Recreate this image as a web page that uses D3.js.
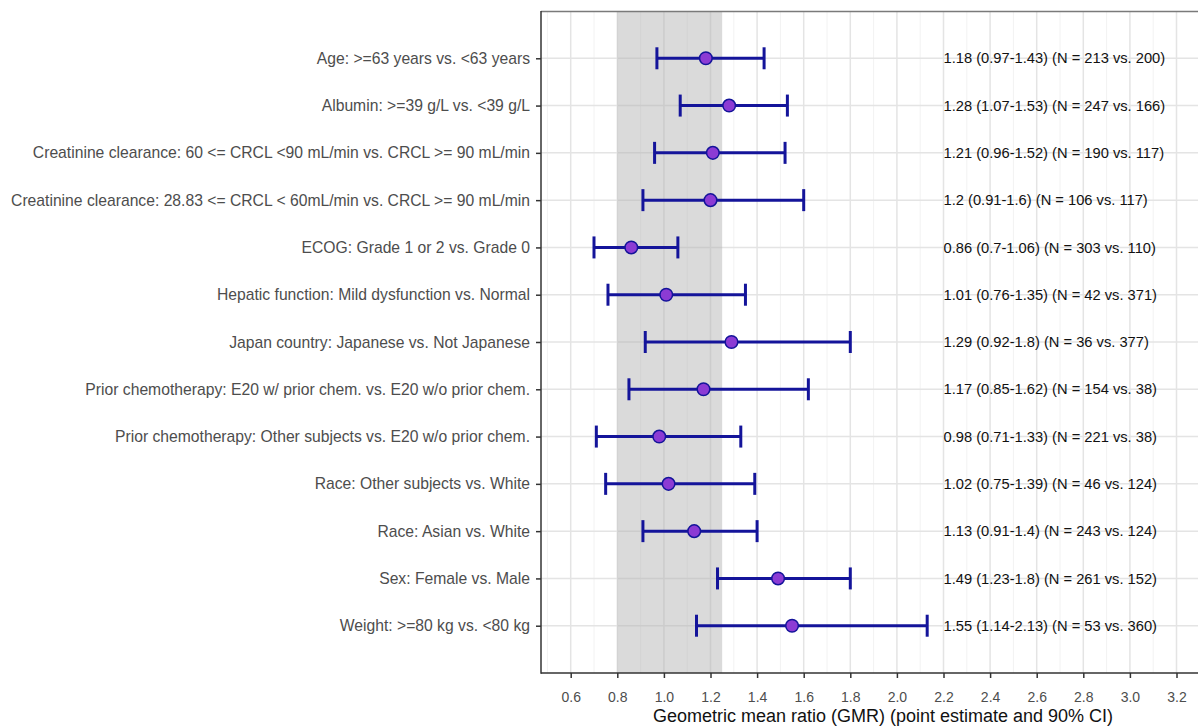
<!DOCTYPE html>
<html>
<head>
<meta charset="utf-8">
<script src="https://cdn.jsdelivr.net/npm/d3@7"></script>
<style>
  body { margin: 0; background: #fff; }
  svg { display: block; font-family: "Liberation Sans", Arial, sans-serif; }
</style>
</head>
<body>
<svg width="1198" height="726"></svg>
<script>
// subgroup comparisons, top to bottom
const labels = [
  'Age: >=63 years vs. <63 years',
  'Albumin: >=39 g/L vs. <39 g/L',
  'Creatinine clearance: 60 <= CRCL <90 mL/min vs. CRCL >= 90 mL/min',
  'Creatinine clearance: 28.83 <= CRCL < 60mL/min vs. CRCL >= 90 mL/min',
  'ECOG: Grade 1 or 2 vs. Grade 0',
  'Hepatic function: Mild dysfunction vs. Normal',
  'Japan country: Japanese vs. Not Japanese',
  'Prior chemotherapy: E20 w/ prior chem. vs. E20 w/o prior chem.',
  'Prior chemotherapy: Other subjects vs. E20 w/o prior chem.',
  'Race: Other subjects vs. White',
  'Race: Asian vs. White',
  'Sex: Female vs. Male',
  'Weight: >=80 kg vs. <80 kg'
];
const gmr   = [1.18, 1.28, 1.21, 1.2, 0.86, 1.01, 1.29, 1.17, 0.98, 1.02, 1.13, 1.49, 1.55];
const lower = [0.97, 1.07, 0.96, 0.91, 0.7, 0.76, 0.92, 0.85, 0.71, 0.75, 0.91, 1.23, 1.14];
const upper = [1.43, 1.53, 1.52, 1.6, 1.06, 1.35, 1.8, 1.62, 1.33, 1.39, 1.4, 1.8, 2.13];
const nTest = [213, 247, 190, 106, 303, 42, 36, 154, 221, 46, 243, 261, 53];
const nRef  = [200, 166, 117, 117, 110, 371, 377, 38, 38, 124, 124, 152, 360];
const strLow = ['0.97', '1.07', '0.96', '0.91', '0.7', '0.76', '0.92', '0.85', '0.71', '0.75', '0.91', '1.23', '1.14'];
const strUp  = ['1.43', '1.53', '1.52', '1.6', '1.06', '1.35', '1.8', '1.62', '1.33', '1.39', '1.4', '1.8', '2.13'];
const xTicks = [0.6, 0.8, 1.0, 1.2, 1.4, 1.6, 1.8, 2.0, 2.2, 2.4, 2.6, 2.8, 3.0, 3.2];
const xMinor = [0.5, 0.7, 0.9, 1.1, 1.3, 1.5, 1.7, 1.9, 2.1, 2.3, 2.5, 2.7, 2.9, 3.1];
const refBand = [0.8, 1.25];
const textX = 2.2;

const PL = 541, PT = 11, PR = 1198, PB = 673;
const BLUE = '#14149a', PURPLE = '#8c3bd4';
const FONT = '"Liberation Sans", Arial, sans-serif';

const svg = d3.select('svg');

const x = d3.scaleLinear().domain([0.6, 3.2]).range([570.7, 1176.5]);
const y = d3.scalePoint().domain(labels).range([PT, PB]).padding(1);

// clip for panel
svg.append('clipPath').attr('id', 'panel')
  .append('rect').attr('x', PL).attr('y', PT).attr('width', PR - PL).attr('height', PB - PT);

const panel = svg.append('g').attr('clip-path', 'url(#panel)');

// grid
panel.selectAll('.minor').data(xMinor).join('line')
  .attr('x1', d => x(d)).attr('x2', d => x(d))
  .attr('y1', PT).attr('y2', PB)
  .attr('stroke', '#f2f2f2').attr('stroke-width', 1);
panel.selectAll('.major').data(xTicks).join('line')
  .attr('x1', d => x(d)).attr('x2', d => x(d))
  .attr('y1', PT).attr('y2', PB)
  .attr('stroke', '#e4e4e4').attr('stroke-width', 1.5);
panel.selectAll('.hgrid').data(labels).join('line')
  .attr('x1', PL).attr('x2', PR)
  .attr('y1', d => y(d)).attr('y2', d => y(d))
  .attr('stroke', '#e4e4e4').attr('stroke-width', 1.5);

// reference band
panel.append('rect')
  .attr('x', x(refBand[0])).attr('width', x(refBand[1]) - x(refBand[0]))
  .attr('y', PT).attr('height', PB - PT)
  .attr('fill', '#b0b0b0').attr('fill-opacity', 0.47);

// top border
svg.append('line').attr('x1', PL).attr('x2', PR).attr('y1', PT + 0.5).attr('y2', PT + 0.5)
  .attr('stroke', '#7a7a7a').attr('stroke-width', 1.5);

// error bars
const rows = labels.map((d, i) => ({label: d, i: i}));
const bars = svg.append('g');
bars.selectAll('.ci').data(rows).join('line')
  .attr('x1', d => x(lower[d.i])).attr('x2', d => x(upper[d.i]))
  .attr('y1', d => y(d.label)).attr('y2', d => y(d.label))
  .attr('stroke', BLUE).attr('stroke-width', 3);
bars.selectAll('.capL').data(rows).join('line')
  .attr('x1', d => x(lower[d.i])).attr('x2', d => x(lower[d.i]))
  .attr('y1', d => y(d.label) - 11).attr('y2', d => y(d.label) + 11)
  .attr('stroke', BLUE).attr('stroke-width', 3);
bars.selectAll('.capU').data(rows).join('line')
  .attr('x1', d => x(upper[d.i])).attr('x2', d => x(upper[d.i]))
  .attr('y1', d => y(d.label) - 11).attr('y2', d => y(d.label) + 11)
  .attr('stroke', BLUE).attr('stroke-width', 3);
bars.selectAll('circle').data(rows).join('circle')
  .attr('cx', d => x(gmr[d.i])).attr('cy', d => y(d.label))
  .attr('r', 6.3)
  .attr('fill', PURPLE).attr('stroke', BLUE).attr('stroke-width', 1.5);

// value text
svg.append('g').selectAll('text').data(rows).join('text')
  .attr('x', x(textX)).attr('y', d => y(d.label))
  .attr('dy', '0.35em')
  .attr('font-size', 14.7).attr('fill', '#111')
  .text(d => `${gmr[d.i]} (${strLow[d.i]}-${strUp[d.i]}) (N = ${nTest[d.i]} vs. ${nRef[d.i]})`);

// axes
const xAxis = svg.append('g').attr('transform', `translate(0,${PB})`)
  .call(d3.axisBottom(x).tickValues(xTicks).tickFormat(d3.format('.1f')).tickSize(5).tickPadding(14));
xAxis.select('.domain').remove();
xAxis.selectAll('.tick line').attr('stroke', '#333').attr('stroke-width', 1.5);
xAxis.selectAll('.tick text').attr('font-size', 14).attr('fill', '#4d4d4d')
  .style('font-family', FONT);

const yAxis = svg.append('g').attr('transform', `translate(${PL},0)`)
  .call(d3.axisLeft(y).tickSize(5).tickPadding(6));
yAxis.select('.domain').remove();
yAxis.selectAll('.tick line').attr('stroke', '#333').attr('stroke-width', 1.5);
yAxis.selectAll('.tick text').attr('font-size', 15.7).attr('fill', '#4d4d4d')
  .style('font-family', FONT);

// axis lines
svg.append('line').attr('x1', PL).attr('x2', PL).attr('y1', PT).attr('y2', PB + 0.75)
  .attr('stroke', '#333').attr('stroke-width', 1.5);
svg.append('line').attr('x1', PL).attr('x2', PR).attr('y1', PB).attr('y2', PB)
  .attr('stroke', '#333').attr('stroke-width', 1.5);

// axis title
svg.append('text')
  .attr('x', 883).attr('y', 722)
  .attr('text-anchor', 'middle').attr('font-size', 18).attr('fill', '#111')
  .text('Geometric mean ratio (GMR) (point estimate and 90% CI)');
</script>
</body>
</html>
